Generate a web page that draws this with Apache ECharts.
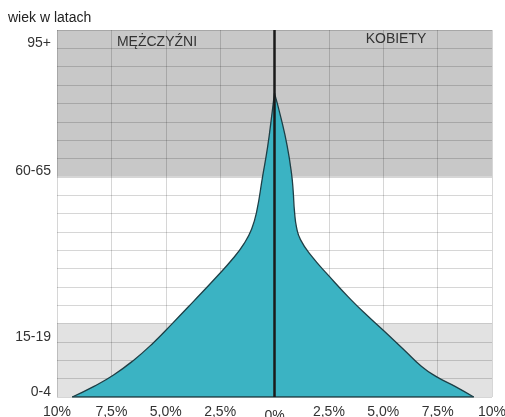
<!DOCTYPE html>
<html>
<head>
<meta charset="utf-8">
<script src="https://cdn.jsdelivr.net/npm/echarts@6/dist/echarts.min.js"></script>
<style>
  html, body { margin: 0; padding: 0; background: #fff; }
  #chart { width: 505px; height: 417px; }
</style>
</head>
<body>
<div id="chart"></div>
<script>
// grupy wieku (od dołu do góry)
const ageGroups = ['0-4', '5-9', '10-14', '15-19', '20-24', '25-29', '30-34', '35-39', '40-44', '45-49',
  '50-54', '55-59', '60-65', '65-69', '70-74', '75-79', '80-84', '85-89', '90-94', '95+'];
const shownAgeLabels = ['0-4', '15-19', '60-65', '95+'];
const xTickLabels = ['10%', '7,5%', '5,0%', '2,5%', '0%', '2,5%', '5,0%', '7,5%', '10%'];

// mężczyźni: udział w % (ujemny = lewa strona) i wiek w latach
const menPct = [-9.3, -8.3, -7.4, -6.5, -5.6, -4.7, -3.7, -2.7, -1.9, -1.4, -1.05, -0.82, -0.55, -0.32, -0.12, 0];
const menAge = [0, 2.9, 6.0, 9.9, 14.6, 20.0, 26.2, 32.5, 37.8, 41.8, 45.8, 50.5, 60, 68, 77, 82.8];

// kobiety
const womenPct = [0, 0.3, 0.58, 0.78, 0.86, 0.92, 1.02, 1.2, 1.66, 2.5, 3.5, 4.3, 5.05, 5.95, 6.75, 7.4, 8.3, 9.16];
const womenAge = [82.8, 76, 68.5, 61, 56, 50.5, 46, 42.8, 38.7, 33.0, 26.6, 22.0, 17.9, 12.9, 8.4, 5.7, 2.9, 0];

// pasy tła: [od wieku, do wieku]
const oldBand = [60, 100];
const youngBand = [0, 20];

const chart = echarts.init(document.getElementById('chart'));

const menData = menPct.map((v, i) => [v, menAge[i]]);
const womenData = womenPct.map((v, i) => [v, womenAge[i]]);
const baseData = [[menPct[0], 0], [womenPct[womenPct.length - 1], 0]];

const font = 'Liberation Sans, Arial, sans-serif';
const outline = { color: '#1e3f46', width: 1.3 };
const fill = { color: '#3bb3c3', opacity: 1 };

chart.setOption({
  animation: false,
  grid: { left: 57, right: 13, top: 30, bottom: 20, outerBoundsMode: 'none', containLabel: false },
  graphic: [
    { type: 'text', left: 8, top: 11, style: { text: 'wiek w latach', font: '14px ' + font, fill: '#222' } },
    { type: 'text', x: 157, y: 42, z: 10, style: { text: 'MĘŻCZYŹNI', font: '14px ' + font, fill: '#333', align: 'center', verticalAlign: 'middle' } },
    { type: 'text', x: 396, y: 39, z: 10, style: { text: 'KOBIETY', font: '14px ' + font, fill: '#333', align: 'center', verticalAlign: 'middle' } }
  ],
  xAxis: {
    type: 'value',
    min: -10,
    max: 10,
    interval: 2.5,
    z: 2,
    axisLine: { show: false },
    axisTick: { show: false },
    splitLine: { show: true, lineStyle: { color: 'rgba(0,0,0,0.16)', width: 1 } },
    axisLabel: {
      color: '#333',
      fontSize: 14,
      fontFamily: font,
      margin: 8,
      showMinLabel: true,
      showMaxLabel: true,
      formatter: function (v) {
        const s = xTickLabels[Math.round((v + 10) / 2.5)];
        return v === 0 ? '{z|' + s + '}' : s;
      },
      rich: { z: { fontSize: 14, fontFamily: font, color: '#333', padding: [4, 0, 0, 0] } }
    }
  },
  yAxis: [
    {
      type: 'value',
      min: 0,
      max: 100,
      interval: 5,
      z: 2,
      axisLine: { show: false },
      axisTick: { show: false },
      axisLabel: { show: false },
      splitLine: { show: true, lineStyle: { color: 'rgba(0,0,0,0.16)', width: 1 } }
    },
    {
      type: 'category',
      data: ageGroups,
      position: 'left',
      boundaryGap: true,
      axisLine: { show: false },
      axisTick: { show: false },
      splitLine: { show: false },
      axisLabel: {
        color: '#333',
        fontSize: 14,
        fontFamily: font,
        margin: 6,
        interval: function (i, v) { return shownAgeLabels.indexOf(v) >= 0; },
        formatter: function (v) { return '{a|' + v + '}'; },
        rich: { a: { fontSize: 14, fontFamily: font, color: '#333', padding: [8, 0, 0, 0] } }
      }
    }
  ],
  series: [
    {
      name: 'tlo',
      type: 'line',
      data: baseData,
      z: 4,
      symbol: 'none',
      lineStyle: outline,
      markArea: {
        silent: true,
        z: 1,
        data: [
          [{ coord: [-10, oldBand[0]], itemStyle: { color: '#c8c8c8' } }, { coord: [10, oldBand[1]] }],
          [{ coord: [-10, youngBand[0]], itemStyle: { color: '#e2e2e2' } }, { coord: [10, youngBand[1]] }]
        ]
      }
    },
    {
      name: 'Mężczyźni',
      type: 'line',
      data: menData,
      smooth: 0.5,
      symbol: 'none',
      z: 3,
      lineStyle: outline,
      areaStyle: fill
    },
    {
      name: 'Kobiety',
      type: 'line',
      data: womenData,
      smooth: 0.5,
      symbol: 'none',
      z: 3,
      lineStyle: outline,
      areaStyle: fill,
      markLine: {
        silent: true,
        symbol: 'none',
        label: { show: false },
        lineStyle: { color: '#1a1a1a', width: 2.5, type: 'solid' },
        data: [{ xAxis: 0 }]
      }
    }
  ]
});
</script>
</body>
</html>
